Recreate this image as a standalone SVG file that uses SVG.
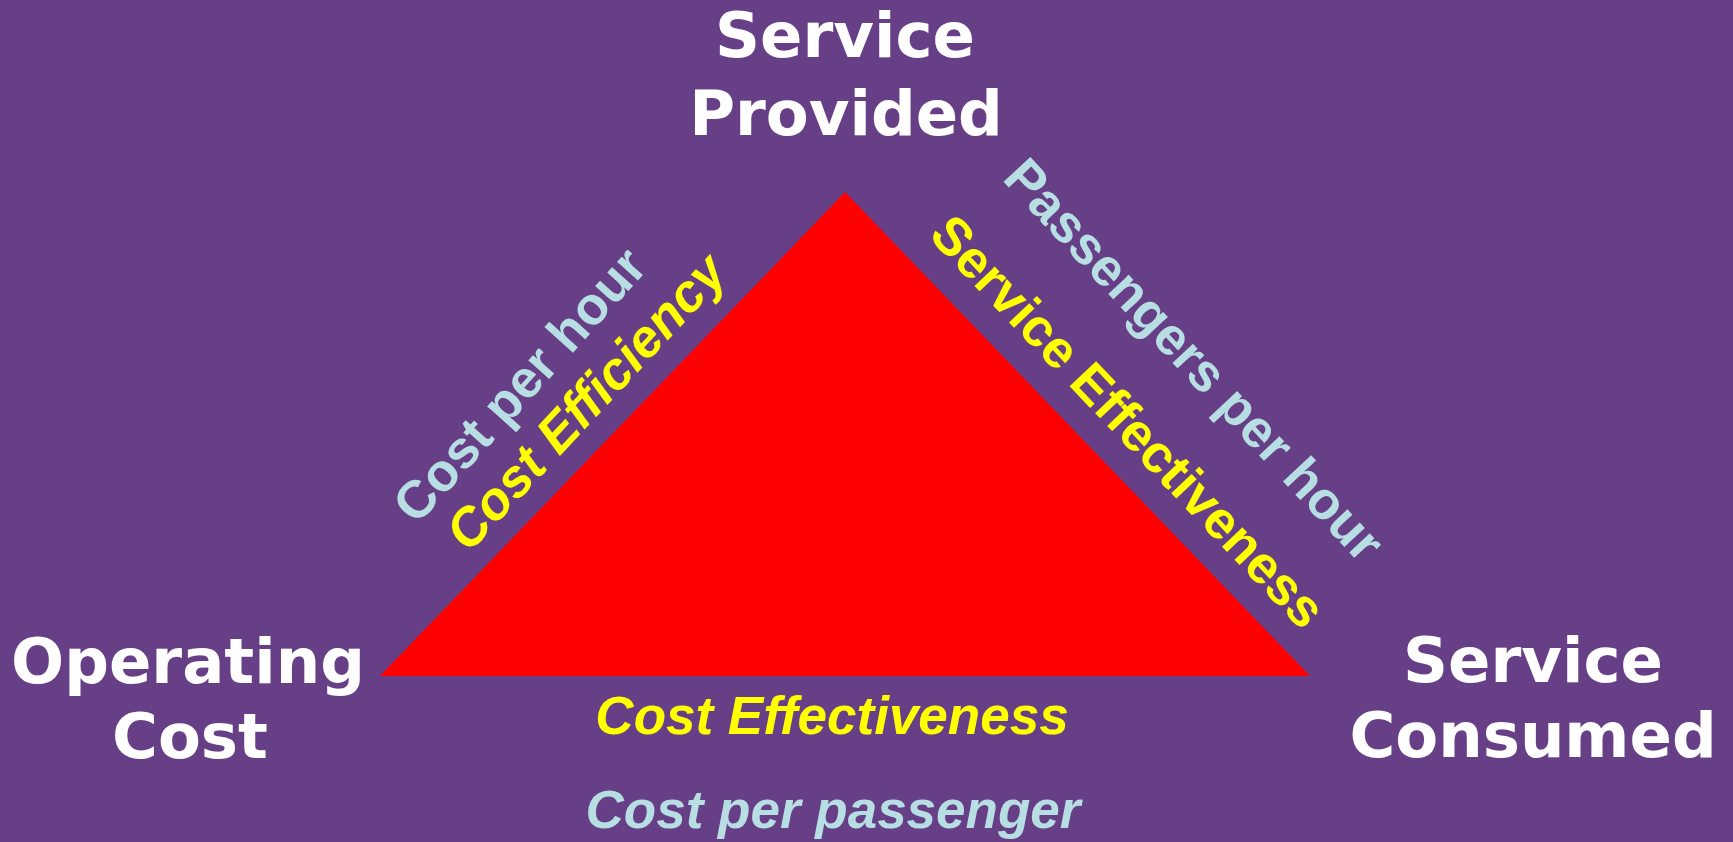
<svg xmlns="http://www.w3.org/2000/svg" width="1733" height="842" viewBox="0 0 1733 842">
  <style>
    .corner { font-family: "DejaVu Sans", Verdana, sans-serif; font-weight: bold; font-size: 62.5px; fill: #FFFFFF; text-anchor: middle; }
    .metric { font-family: "Liberation Sans", Arial, sans-serif; font-weight: bold; font-size: 53px; text-anchor: middle; }
    .bottom { font-family: "Liberation Sans", Arial, sans-serif; font-weight: bold; font-style: italic; font-size: 53px; text-anchor: middle; }
    .ratio { fill: #B7DEE3; }
    .measure { fill: #FFFF00; }
  </style>
  <rect width="1733" height="842" fill="#673F87"/>

  <!-- the performance triangle -->
  <g id="connectors">
    <polygon id="triangle" points="845,192 380,676 1310,676" fill="#FF0000"/>
  </g>

  <g id="service-provided">
    <text class="corner" x="845" y="57">Service</text>
    <text class="corner" x="846" y="135">Provided</text>
  </g>
  <g id="operating-cost">
    <text class="corner" x="188" y="683">Operating</text>
    <text class="corner" x="190" y="758">Cost</text>
  </g>
  <g id="service-consumed">
    <text class="corner" x="1533" y="682">Service</text>
    <text class="corner" x="1533" y="757">Consumed</text>
  </g>

  <!-- left side: provided vs cost -->
  <g id="cost-efficiency">
    <text class="metric ratio" transform="translate(533,397) rotate(-48)">Cost per hour</text>
    <text class="metric measure" font-style="italic" transform="translate(599,414) rotate(-47)">Cost Efficiency</text>
  </g>

  <!-- right side: provided vs consumed -->
  <g id="service-effectiveness">
    <text class="metric ratio" transform="translate(1181,372) rotate(47)">Passengers per hour</text>
    <text class="metric measure" transform="translate(1115,434) rotate(46.5)">Service Effectiveness</text>
  </g>

  <!-- base: cost vs consumed -->
  <g id="cost-effectiveness">
    <text class="bottom measure" x="832" y="734">Cost Effectiveness</text>
    <text class="bottom ratio" x="833" y="828">Cost per passenger</text>
  </g>
</svg>
